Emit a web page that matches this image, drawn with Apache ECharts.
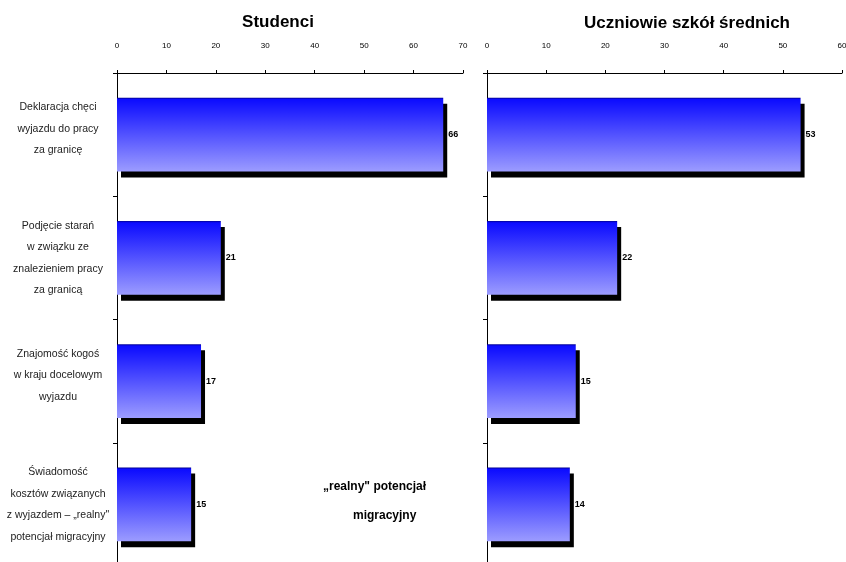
<!DOCTYPE html>
<html><head><meta charset="utf-8">
<script src="https://cdn.jsdelivr.net/npm/echarts@6/dist/echarts.min.js"></script>
<style>html,body{margin:0;padding:0;background:#fff}#c{width:846px;height:562px}</style>
</head><body><div id="c"></div>
<script>
const categories = [
  'Deklaracja chęci\nwyjazdu do pracy\nza granicę',
  'Podjęcie starań\nw związku ze\nznalezieniem pracy\nza granicą',
  'Znajomość kogoś\nw kraju docelowym\nwyjazdu',
  'Świadomość\nkosztów związanych\nz wyjazdem – „realny"\npotencjał migracyjny'
];
const studenci = [66, 21, 17, 15];
const uczniowie = [53, 22, 15, 14];
const titleLeft = 'Studenci';
const titleRight = 'Uczniowie szkół średnich';
const noteLines = ['„realny" potencjał', 'migracyjny'];

const FONT = "'Liberation Sans', Arial, sans-serif";
const NARROW = "'Liberation Sans Narrow', 'Liberation Sans', Arial, sans-serif";

const barGradient = new echarts.graphic.LinearGradient(0, 0, 0, 1, [
  {offset: 0, color: '#00008a'},
  {offset: 0.025, color: '#0c0cff'},
  {offset: 1, color: '#9c9cff'}
]);

function xAx(idx, max) {
  return {
    type: 'value', gridIndex: idx, position: 'top', min: 0, max: max, interval: 10,
    axisLine: {show: true, lineStyle: {color: '#000', width: 1}},
    axisTick: {show: true, length: 3, lineStyle: {color: '#000'}},
    splitLine: {show: false},
    axisLabel: {margin: 23, fontSize: 8, color: '#000', fontFamily: NARROW}
  };
}
function yAx(idx, showLabel) {
  return {
    type: 'category', gridIndex: idx, inverse: true, data: categories,
    axisLine: {show: true, lineStyle: {color: '#000', width: 1}},
    axisTick: {show: true, length: 4, lineStyle: {color: '#000'}},
    axisLabel: showLabel ? {
      show: true, margin: 59, align: 'center', fontSize: 10.5, lineHeight: 21.5,
      color: '#222', fontFamily: FONT,
      formatter: function (v) {
        return v.split('\n').length === 3 ? v + '\n{s| }' : v;
      },
      rich: {s: {fontSize: 4, lineHeight: 12}}
    } : {show: false}
  };
}
function ser(idx, data) {
  return {
    type: 'bar', xAxisIndex: idx, yAxisIndex: idx, data: data, barWidth: '60%',
    itemStyle: {
      color: barGradient, borderWidth: 0,
      shadowColor: '#000', shadowBlur: 0, shadowOffsetX: 4, shadowOffsetY: 6
    },
    label: {
      show: true, position: 'right', distance: 5, fontSize: 9, fontWeight: 'bold',
      color: '#000', fontFamily: NARROW
    }
  };
}

const chart = echarts.init(document.getElementById('c'));
chart.setOption({
  animation: false,
  backgroundColor: '#fff',
  grid: [
    {left: 117, right: 383, top: 73, bottom: -4, containLabel: false, outerBoundsMode: 'none'},
    {left: 487, right: 4, top: 73, bottom: -4, containLabel: false, outerBoundsMode: 'none'}
  ],
  xAxis: [xAx(0, 70), xAx(1, 60)],
  yAxis: [yAx(0, true), yAx(1, false)],
  series: [ser(0, studenci), ser(1, uczniowie)],
  graphic: [
    {type: 'text', x: 278, y: 22, style: {text: titleLeft, align: 'center', verticalAlign: 'middle', fontSize: 17, fontWeight: 'bold', fill: '#000', fontFamily: FONT}},
    {type: 'text', x: 687, y: 23, style: {text: titleRight, align: 'center', verticalAlign: 'middle', fontSize: 17, fontWeight: 'bold', fill: '#000', fontFamily: FONT}},
    {type: 'text', x: 323, y: 487, style: {text: noteLines[0], verticalAlign: 'middle', fontSize: 12, fontWeight: 'bold', fill: '#000', fontFamily: NARROW}},
    {type: 'text', x: 353, y: 516, style: {text: noteLines[1], verticalAlign: 'middle', fontSize: 12, fontWeight: 'bold', fill: '#000', fontFamily: NARROW}}
  ]
});
</script>
</body></html>
